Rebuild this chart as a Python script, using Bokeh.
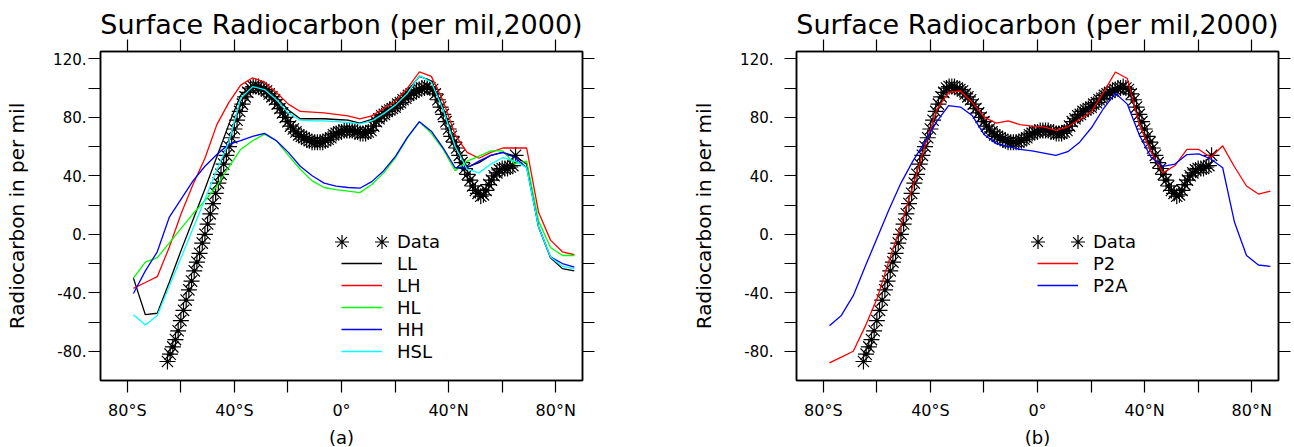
from bokeh.plotting import figure
from bokeh.models import LinearAxis, FixedTicker, Range1d, Legend, LegendItem
from bokeh.layouts import row
from bokeh.embed import file_html
from bokeh.resources import INLINE

FONT = "DejaVu Sans"

# ---------------- data ----------------
lat_data = list(range(-65, 66))
obs = [-87, -82, -77, -72, -66, -59, -52, -45, -38, -32,
       -25, -19, -13, -6, 0, 7, 14, 21, 28, 35,
       41, 48, 54, 60, 66, 72, 78, 84, 89, 94,
       97, 100, 101, 101, 101, 100, 99, 98, 96, 94,
       92, 89, 86, 83, 80, 77, 74, 72, 70, 68,
       67, 66, 65, 64, 63, 63, 63, 63, 63, 64,
       65, 66, 68, 69, 70, 70, 71, 71, 71, 71,
       70, 70, 69, 69, 69, 70, 71, 74, 77, 79,
       81, 82, 84, 85, 86, 87, 89, 90, 92, 93,
       95, 96, 97, 98, 99, 100, 100, 101, 100, 99,
       96, 92, 87, 82, 77, 72, 67, 63, 59, 54,
       49, 45, 41, 37, 33, 30, 28, 26, 27, 30,
       34, 37, 40, 42, 44, 45, 45, 45, 46, 47,
       54]

lat_model = [-77.7, -73.25, -68.8, -64.35, -59.9, -55.45, -51.0, -46.55, -42.1, -37.65,
             -33.2, -28.75, -24.3, -19.85, -15.4, -10.95, -6.5, -2.05, 2.4, 6.85,
             11.3, 15.75, 20.2, 24.65, 29.1, 33.55, 38.0, 42.45, 46.9, 51.35,
             55.8, 60.25, 64.7, 69.15, 73.6, 78.05, 82.5, 86.95]

LL = [-30, -55, -54, -33, -11, 10, 31, 53, 75, 95,
      102, 101, 94, 85, 79, 79, 79, 78.5, 78, 76,
      78.5, 84, 89, 98, 108, 105, 86, 61, 46, 49,
      54, 56, 53.5, 48, 5, -16, -23.5, -25]
LH = [-37, -33, -29, -9, 14, 34, 52, 75, 90, 102,
      107, 104, 97, 89, 84, 83.5, 83, 82, 81, 79,
      81, 86, 91, 100, 111, 108, 91, 68, 56, 52,
      56, 59, 59, 59, 15, -4, -12, -14]
HL = [-30, -19, -16, -6, 4, 14, 23, 33, 46, 58,
      64, 68.5, 64, 54, 44.5, 36.5, 32, 30.5, 29.5, 28.5,
      34, 42, 52.5, 66, 77, 69, 58, 43.5, 50, 53.5,
      57, 57, 48, 50, 9, -9, -14.5, -14.5]
HH = [-40.5, -25, -12, 11.5, 24, 36.5, 46.5, 54.5, 61.5, 64,
      67, 69, 64, 56, 46.5, 40, 35, 33, 32, 31.5,
      36, 43.5, 53.5, 66.5, 77, 70.5, 59, 45.5, 45.5, 50,
      54, 56, 52.5, 45.5, 5, -15.5, -20, -22.5]
HSL = [-55, -62, -55.5, -35.5, -16, 4, 24, 44, 63, 93,
       101, 99, 92, 83, 78, 77.5, 77.5, 77, 76.5, 75.5,
       77.5, 82.5, 88.5, 96.5, 108.5, 104, 85, 60, 44.5, 42,
       48, 52.5, 50, 45.5, 5, -15.5, -22, -23.5]

P2 = [-88, -84, -80, -63, -44, -18, 6, 33, 60, 85,
      97, 98, 90, 80, 76, 77.5, 75, 74, 73.5, 71,
      73.5, 78.5, 84, 97, 111, 106.5, 75, 56, 42, 47,
      58, 58, 52.5, 60.5, 46, 33, 27.5, 29.5]
P2A = [-62.5, -55.5, -42, -22, -2.5, 17, 35, 50, 63, 77,
       88, 87, 81, 68, 62, 60, 58, 57, 55.5, 54,
       56.5, 63, 73, 86, 96.5, 89, 68, 52.5, 46.5, 48,
       54.5, 55, 51.5, 45.5, 8, -14.5, -21, -22]

x_ticks = [-80, -60, -40, -20, 0, 20, 40, 60, 80]
x_labels = {-80: "80°S", -60: "", -40: "40°S", -20: "", 0: "0°",
            20: "", 40: "40°N", 60: "", 80: "80°N"}
y_ticks = [-80, -60, -40, -20, 0, 20, 40, 60, 80, 100, 120]
y_labels = {-80: "-80.", -60: "", -40: "-40.", -20: "", 0: "0.", 20: "",
            40: "40.", 60: "", 80: "80.", 100: "", 120: "120."}

TITLE = "Surface Radiocarbon (per mil,2000)"
YLABEL = "Radiocarbon in per mil"


def style_axis(ax, labels, show, tick_font="15px", label_font="20px"):
    ax.major_label_overrides = labels if show else {k: "" for k in labels}
    ax.major_tick_out = 12
    ax.major_tick_in = 0
    ax.minor_tick_out = 0
    ax.minor_tick_in = 0
    ax.axis_line_color = "black"
    ax.axis_line_width = 1.5
    ax.major_tick_line_color = "black"
    ax.major_tick_line_width = 1.2
    ax.major_label_text_font = FONT
    ax.major_label_text_font_size = tick_font if show else "0px"
    ax.major_label_text_color = "black"
    ax.axis_label_text_font = FONT
    ax.axis_label_text_font_size = label_font
    ax.axis_label_text_font_style = "normal"
    ax.axis_label_text_color = "black"


def plain_legend(items, loc, gw, gh):
    lg = Legend(items=items, location=loc)
    lg.background_fill_alpha = 0
    lg.border_line_alpha = 0
    lg.padding = 0
    lg.margin = 0
    lg.spacing = 0
    lg.label_height = gh
    lg.glyph_height = gh
    lg.glyph_width = gw
    lg.label_text_font = FONT
    lg.label_text_color = "black"
    return lg


def make_panel(sub, series, left_border, right_border, ylab_standoff, ytick_standoff):
    p = figure(frame_width=482, frame_height=329,
               x_range=Range1d(-90, 90), y_range=Range1d(-100, 125),
               output_backend="svg", toolbar_location=None,
               min_border_left=left_border, min_border_right=right_border,
               min_border_top=51, min_border_bottom=67,
               title=TITLE)
    p.title.align = "center"
    p.title.text_font = FONT
    p.title.text_font_size = "27px"
    p.title.text_font_style = "normal"
    p.title.text_color = "black"
    p.title.standoff = 0
    p.grid.visible = False
    p.outline_line_color = "black"
    p.outline_line_width = 1.5
    p.background_fill_color = "white"
    p.border_fill_color = "white"

    xb = p.xaxis[0]
    xb.ticker = FixedTicker(ticks=x_ticks)
    style_axis(xb, x_labels, True, "16px", "18px")
    xb.axis_label = sub
    xb.major_label_standoff = 8
    xb.axis_label_standoff = 4

    yl = p.yaxis[0]
    yl.ticker = FixedTicker(ticks=y_ticks)
    style_axis(yl, y_labels, True, "15px", "20px")
    yl.axis_label = YLABEL
    yl.major_label_standoff = ytick_standoff
    yl.axis_label_standoff = ylab_standoff

    xt = LinearAxis(ticker=FixedTicker(ticks=x_ticks))
    style_axis(xt, x_labels, False)
    xt.major_label_standoff = 0
    p.add_layout(xt, "above")
    yr = LinearAxis(ticker=FixedTicker(ticks=y_ticks))
    style_axis(yr, y_labels, False)
    yr.major_label_standoff = 0
    p.add_layout(yr, "right")

    # observations
    star = p.scatter(lat_data, obs, marker="asterisk", size=16, line_color="black",
                     line_width=1.2)
    p.scatter(lat_data, obs, marker="circle", size=3, fill_color="black",
              line_color="black")
    # invisible stand-in so the "Data" row keeps its place in the main legend
    blank = p.scatter([], [], marker="asterisk", line_alpha=0, fill_alpha=0)
    items = [LegendItem(label="Data", renderers=[blank])]
    for name, vals, color in series:
        r = p.line(lat_model, vals, line_color=color, line_width=1.3)
        items.append(LegendItem(label=name, renderers=[r]))

    n = len(items)
    legend = plain_legend(items, (241, 329 - (230 - 51) - n * 22), 41, 22)
    legend.label_standoff = 15
    legend.label_text_font_size = "18px"
    p.add_layout(legend)

    # the two asterisks of the "Data" legend entry
    for cx in (241, 281.7):
        sl = plain_legend([LegendItem(label=" ", renderers=[star])],
                          (cx - 17.5, 139 - 17.5), 35, 35)
        sl.label_standoff = 0
        sl.label_text_font_size = "2px"
        p.add_layout(sl)
    return p


left = make_panel("(a)", [("LL", LL, "black"), ("LH", LH, "red"), ("HL", HL, "#00ff00"),
                          ("HH", HH, "blue"), ("HSL", HSL, "cyan")],
                  100, 65, 21, 2)
right = make_panel("(b)", [("P2", P2, "red"), ("P2A", P2A, "blue")],
                   149, 16, 21, 11)

layout = row(left, right)
open("out.html", "w").write(file_html(layout, INLINE))
